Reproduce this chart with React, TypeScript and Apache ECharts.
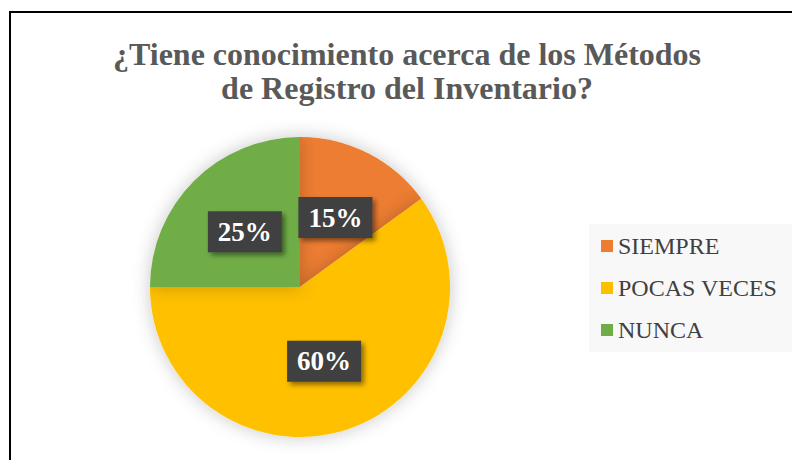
import React, { useEffect, useRef } from "react";
import * as echarts from "echarts";

const categories = ["SIEMPRE", "POCAS VECES", "NUNCA"];
const values = [15, 60, 25];
const colors = ["#ED7D31", "#FFC000", "#70AD47"];
const titleText = "¿Tiene conocimiento acerca de los Métodos\nde Registro del Inventario?";

export default function App() {
  const ref = useRef<HTMLDivElement>(null);
  useEffect(() => {
    if (!ref.current) return;
    const chart = echarts.init(ref.current, undefined, { renderer: "svg" });
    const serif = "'Liberation Serif', 'Times New Roman', serif";
    chart.setOption({
      animation: false,
      backgroundColor: "#ffffff",
      title: {
        text: titleText,
        left: 407,
        top: 37,
        padding: 0,
        textAlign: "center",
        textStyle: {
          fontFamily: serif,
          fontWeight: "bold",
          fontSize: 32,
          lineHeight: 34,
          color: "#595959",
        },
      },
      graphic: [
        {
          type: "rect",
          shape: { x: 589, y: 224, width: 220, height: 128 },
          style: { fill: "#f8f8f8" },
          z: -1,
        },
        {
          type: "rect",
          shape: { x: 10, y: 12, width: 820, height: 500 },
          style: { fill: "none", stroke: "#000", lineWidth: 2 },
          z: 10,
        },
      ],
      legend: {
        orient: "vertical",
        left: 601,
        top: 234,
        padding: 0,
        itemWidth: 12,
        itemHeight: 12,
        itemGap: 18,
        icon: "rect",
        data: categories,
        textStyle: {
          fontFamily: serif,
          fontSize: 24,
          lineHeight: 24,
          color: "#404040",
        },
      },
      series: [
        {
          type: "pie",
          center: [300, 287],
          radius: 150,
          startAngle: 90,
          clockwise: true,
          silent: true,
          itemStyle: {
            shadowBlur: 18,
            shadowColor: "rgba(0,0,0,0.22)",
          },
          label: {
            show: true,
            position: "inside",
            formatter: "{d}%",
            fontFamily: serif,
            fontWeight: "bold",
            fontSize: 27,
            lineHeight: 27,
            color: "#ffffff",
            backgroundColor: "#404040",
            padding: [7, 10],
            shadowColor: "rgba(0,0,0,0.45)",
            shadowBlur: 5,
            shadowOffsetX: 3,
            shadowOffsetY: 3,
          },
          labelLine: { show: false },
          data: categories.map((name, i) => ({
            name,
            value: values[i],
            itemStyle: { color: colors[i] },
          })),
        },
      ],
    });
    return () => chart.dispose();
  }, []);
  return (
    <div
      ref={ref}
      style={{ position: "fixed", left: 0, top: 0, width: 792, height: 460 }}
    />
  );
}
